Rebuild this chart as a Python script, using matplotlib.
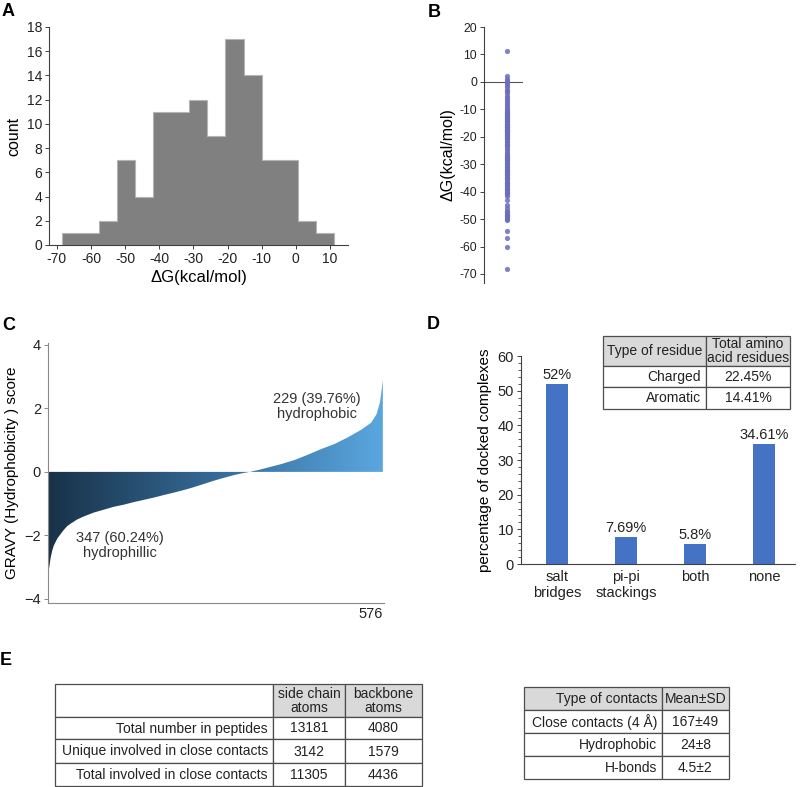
import matplotlib
matplotlib.use("Agg")
import matplotlib.pyplot as plt
import numpy as np
from matplotlib.colors import LinearSegmentedColormap
from matplotlib.patches import Rectangle, Polygon
from matplotlib.ticker import MultipleLocator

plt.rcParams['font.family'] = ['Liberation Sans', 'DejaVu Sans']
plt.rcParams['axes.unicode_minus'] = False

# --- panel A / B: binding free energies (kcal/mol)
dg_values = [-68.2, -60.0, -57.0, -54.5,
             -47.5, -48.0, -48.5, -49.0, -49.5, -50.0, -50.5,
             -43.0, -45.0, -46.0, -47.0,
             -36.8, -37.0, -37.5, -38.0, -38.5, -39.0, -39.5, -40.0, -40.5, -41.0, -41.5,
             -31.6, -32.0, -32.5, -33.0, -33.2, -33.5, -34.0, -34.5, -35.0, -35.5, -36.0,
             -26.2, -26.6, -27.0, -27.5, -27.8, -28.0, -28.5, -29.0, -29.5, -30.0, -30.5, -31.0,
             -21.0, -21.5, -22.0, -22.5, -23.0, -23.5, -24.0, -25.0, -25.5,
             -15.5, -15.8, -16.0, -16.3, -16.6, -17.0, -17.3, -17.6, -17.8, -18.0, -18.3,
             -18.6, -19.0, -19.3, -19.6, -20.0, -20.3,
             -10.2, -10.5, -10.8, -11.2, -11.6, -12.0, -12.4, -12.8, -13.2, -13.6, -14.0,
             -14.4, -14.8, -15.2,
             -5.0, -5.8, -6.5, -7.2, -8.0, -8.8, -9.6,
             -0.5, -1.2, -2.0, -2.8, -3.5, -4.2, 0.3,
             1.2, 2.0,
             11.2]
bin_edges = [-68.4, -63.09, -57.78, -52.47, -47.16, -41.85, -36.54, -31.23,
             -25.92, -20.61, -15.3, -9.99, -4.68, 0.63, 5.94, 11.25]

# --- panel C: sorted GRAVY scores read along the rank axis
gravy_rank = [0, 1, 2, 4.6, 7.4, 10, 16, 22, 27.5, 33, 39, 50, 62, 79, 96, 113, 131,
              148, 165, 182, 199, 217, 234, 251, 268, 285, 300, 320, 335, 347,
              362, 379, 402, 425, 447, 470, 493, 516, 539, 556, 565, 571, 574, 576]
gravy_score = [-3.8, -3.15, -3.02, -2.7, -2.47, -2.32, -2.1, -1.95, -1.82, -1.71, -1.63,
               -1.5, -1.4, -1.28, -1.19, -1.1, -1.03, -0.95, -0.88, -0.81, -0.73, -0.65,
               -0.57, -0.48, -0.38, -0.28, -0.2, -0.1, -0.04, 0.0,
               0.06, 0.14, 0.25, 0.38, 0.54, 0.72, 0.88, 1.09, 1.33, 1.55, 1.81, 2.18, 2.6, 2.9]
n_peptides = 576

# --- panel D
contact_types = ['salt\nbridges', 'pi-pi\nstackings', 'both', 'none']
contact_pct = [52, 7.69, 5.8, 34.61]
contact_labels = ['52%', '7.69%', '5.8%', '34.61%']

residue_table = [['Type of residue', 'Total amino\nacid residues'],
                 ['Charged', '22.45%'],
                 ['Aromatic', '14.41%']]

# --- panel E
atom_table = [['', 'side chain\natoms', 'backbone\natoms'],
              ['Total number in peptides', '13181', '4080'],
              ['Unique involved in close contacts', '3142', '1579'],
              ['Total involved in close contacts', '11305', '4436']]
contact_table = [['Type of contacts', 'Mean\u00b1SD'],
                 ['Close contacts (4 \u00c5)', '167\u00b149'],
                 ['Hydrophobic', '24\u00b18'],
                 ['H-bonds', '4.5\u00b12']]

W, H = 800, 787
fig = plt.figure(figsize=(W / 100, H / 100), dpi=100)


def px_axes(x0, y0, x1, y1):
    return fig.add_axes([x0 / W, 1 - y1 / H, (x1 - x0) / W, (y1 - y0) / H])


def style(ax, color='#404040'):
    for s in ['top', 'right']:
        ax.spines[s].set_visible(False)
    for s in ['left', 'bottom']:
        ax.spines[s].set_color(color)
        ax.spines[s].set_linewidth(0.8)
    ax.tick_params(colors=color, labelcolor='#222222', length=3, width=0.7)


# ---------------- A
ax_a = px_axes(49, 27, 348, 245)
ax_a.hist(dg_values, bins=bin_edges, histtype='stepfilled', color='#808080',
          edgecolor='#b5b5b5', linewidth=0.8)
ax_a.set_xlim(-72.3, 15.3)
ax_a.set_ylim(0, 18)
ax_a.set_xticks(range(-70, 11, 10))
ax_a.set_yticks(range(0, 19, 2))
style(ax_a)
ax_a.tick_params(labelsize=10, pad=2)
ax_a.set_xlabel('\u0394G(kcal/mol)', fontsize=12, labelpad=3)
ax_a.set_ylabel('count', fontsize=11.5, labelpad=4)

# ---------------- B
ax_b = px_axes(484, 27, 523, 283)
ax_b.scatter(np.full(len(dg_values), 0.59), dg_values, s=14, color='#6b6bbf',
             alpha=0.85, linewidths=0, zorder=3)
ax_b.axhline(0, color='#555555', lw=0.8, zorder=2)
ax_b.set_xlim(0, 1)
ax_b.set_ylim(-73.3, 20)
ax_b.set_yticks(range(-70, 21, 10))
ax_b.set_xticks([])
style(ax_b)
ax_b.spines['bottom'].set_visible(False)
ax_b.tick_params(labelsize=8.8, pad=2)
ax_b.set_ylabel('\u0394G(kcal/mol)', fontsize=11.5, labelpad=3)

# ---------------- C
ax_c = px_axes(48, 343, 384, 603)
cmap_c = LinearSegmentedColormap.from_list('gravy', ['#183248', '#356a97', '#5aa7e0'])
poly_pts = np.column_stack([np.r_[gravy_rank, gravy_rank[::-1]],
                            np.r_[gravy_score, np.zeros(len(gravy_score))]])
clip = Polygon(poly_pts, closed=True, facecolor='none', edgecolor='none')
ax_c.add_patch(clip)
img = ax_c.imshow(np.linspace(0, 1, 256)[None, :], cmap=cmap_c, aspect='auto',
                  extent=[0, n_peptides, -4.2, 4.2], zorder=1)
img.set_clip_path(clip)
ax_c.set_xlim(0, n_peptides + 2)
ax_c.set_ylim(-4.13, 4.06)
ticks_c = [-4, -2, 0, 2, 4]
ax_c.set_yticks(ticks_c)
ax_c.set_yticklabels([f'{t:g}'.replace('-', '\u2212') for t in ticks_c])
ax_c.set_xticks([n_peptides])
ax_c.set_xticklabels([str(n_peptides)], ha='right')
style(ax_c, color='#8a8a8a')
ax_c.tick_params(labelsize=10.5, pad=2)
ax_c.tick_params(axis='x', length=0, pad=3)
ax_c.set_ylabel('GRAVY (Hydrophobicity ) score', fontsize=11, labelpad=4)
ax_c.text(124, -2.32, '347 (60.24%)\nhydrophillic', ha='center', va='center',
          fontsize=10.5, color='#333333', linespacing=1.15)
ax_c.text(462, 2.06, '229 (39.76%)\nhydrophobic', ha='center', va='center',
          fontsize=10.5, color='#333333', linespacing=1.15)

# ---------------- D
ax_d = px_axes(521, 356, 795, 564)
xpos = np.arange(len(contact_types))
bars = ax_d.bar(xpos, contact_pct, width=0.32, color='#4472c4')
for b, lab in zip(bars, contact_labels):
    ax_d.text(b.get_x() + b.get_width() / 2, b.get_height() + 0.6, lab,
              ha='center', va='bottom', fontsize=10.5, color='#222222')
ax_d.set_xlim(-0.52, 3.45)
ax_d.set_ylim(0, 60)
ax_d.set_yticks(range(0, 61, 10))
ax_d.yaxis.set_minor_locator(MultipleLocator(2))
ax_d.set_xticks(xpos)
ax_d.set_xticklabels(contact_types)
style(ax_d)
ax_d.tick_params(labelsize=10.5, pad=2)
ax_d.tick_params(axis='y', which='minor', length=2, width=0.6, colors='#404040')
ax_d.tick_params(axis='x', length=0, pad=4)
ax_d.set_ylabel('percentage of docked complexes', fontsize=11, labelpad=4)

# ---------------- tables (pixel overlay)
ov = fig.add_axes([0, 0, 1, 1], zorder=5)
ov.set_xlim(0, W)
ov.set_ylim(H, 0)
ov.axis('off')
ov.patch.set_alpha(0)


def draw_table(rows, xe, ye, grey, align, fs=10):
    for i, row in enumerate(rows):
        for j, txt in enumerate(row):
            x0, x1 = xe[j], xe[j + 1]
            y0, y1 = ye[i], ye[i + 1]
            fc = '#d9d9d9' if (i, j) in grey else 'white'
            ov.add_patch(Rectangle((x0, y0), x1 - x0, y1 - y0, facecolor=fc,
                                   edgecolor='#4d4d4d', lw=0.9))
            a = align[i][j]
            tx = {'left': x0 + 5, 'center': (x0 + x1) / 2, 'right': x1 - 5}[a]
            ov.text(tx, (y0 + y1) / 2 + 0.5, txt, ha=a, va='center', fontsize=fs,
                    color='#222222', linespacing=1.0, multialignment='center')


draw_table(residue_table, [603, 706, 790], [336, 366, 387, 409],
           grey={(0, 0), (0, 1)},
           align=[['center', 'center'], ['right', 'center'], ['right', 'center']])
draw_table(atom_table, [55, 273, 345, 422], [684, 717, 739, 763, 786],
           grey={(0, 1), (0, 2)},
           align=[['right', 'center', 'center']] * 4)
draw_table(contact_table, [524, 662, 729], [687, 710, 733, 756, 779],
           grey={(0, 0), (0, 1)},
           align=[['right', 'center']] * 4)

# ---------------- panel letters
for lab, x, y in [('A', 2, 3), ('B', 428, 4), ('C', 2, 317), ('D', 427, 316), ('E', 0, 652)]:
    fig.text(x / W, 1 - y / H, lab, fontsize=13, fontweight='bold', va='top', ha='left')

fig.savefig('out.png', dpi=100)
